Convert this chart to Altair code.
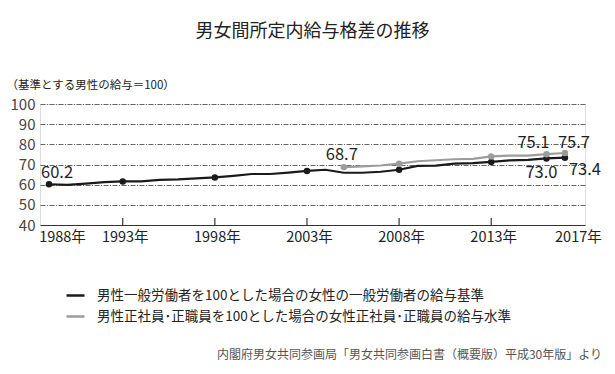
import altair as alt
import pandas as pd

FONT = "Noto Sans CJK JP"

# ---- data ----
series_general = "男性一般労働者を100とした場合の女性の一般労働者の給与基準"
series_regular = "男性正社員･正職員を100とした場合の女性正社員･正職員の給与水準"

years_general = list(range(1989, 2018))
values_general = [60.2, 59.9, 60.5, 61.3, 61.6, 61.6, 62.4, 62.6, 63.1, 63.6,
                  64.4, 65.3, 65.3, 66.0, 66.8, 67.4, 65.9, 65.9, 66.4, 67.4,
                  69.3, 69.4, 70.4, 70.7, 71.3, 72.0, 72.3, 73.0, 73.4]
marked_general = [1989, 1993, 1998, 2003, 2008, 2013, 2016, 2017]

years_regular = list(range(2005, 2018))
values_regular = [68.7, 69.1, 69.5, 70.4, 71.6, 72.1, 72.6, 72.8, 74.0, 74.4,
                  74.4, 75.1, 75.7]
marked_regular = [2005, 2008, 2013, 2016, 2017]

x_tick_values = [1989, 1993, 1998, 2003, 2008, 2013, 2017]
x_tick_labels = ["1988年", "1993年", "1998年", "2003年", "2008年", "2013年", "2017年"]
inner_tick_years = [1993, 1998, 2003, 2008, 2013]
y_tick_values = [40, 50, 60, 70, 80, 90, 100]

label_series = [series_general, series_regular, series_regular, series_regular, series_general, series_general]
label_years = [1989, 2005, 2016, 2017, 2016, 2017]
label_values = [60.2, 68.7, 75.1, 75.7, 73.0, 73.4]

title_text = "男女間所定内給与格差の推移"
unit_text = "（基準とする男性の給与＝100）"
source_text = "内閣府男女共同参画局「男女共同参画白書（概要版）平成30年版」より"

# ---- tables ----
rows = []
for y, v in zip(years_general, values_general):
    rows.append({"series": series_general, "year": y, "value": v, "marked": y in marked_general})
for y, v in zip(years_regular, values_regular):
    rows.append({"series": series_regular, "year": y, "value": v, "marked": y in marked_regular})
df = pd.DataFrame(rows)

df_labels = pd.DataFrame({"series": label_series, "year": label_years, "value": label_values})
df_labels["text"] = df_labels["value"].map(lambda v: f"{v:.1f}")
df_ticks = pd.DataFrame({"year": inner_tick_years, "value": [40] * len(inner_tick_years),
                         "hi": [43.5] * len(inner_tick_years)})

label_map = " : ".join(f"datum.value == {v} ? '{t}'" for v, t in zip(x_tick_values, x_tick_labels)) + " : ''"

x_scale = alt.Scale(domain=[1988.51, 2018.09], nice=False, zero=False)
y_scale = alt.Scale(domain=[40, 100], nice=False, zero=False)
color_scale = alt.Scale(domain=[series_general, series_regular], range=["#1a1a1a", "#9c9c9c"])

x_axis = alt.Axis(values=x_tick_values, labelExpr=label_map, title=None, grid=False,
                  ticks=False, domain=True, domainColor="#333333", domainWidth=1.2,
                  labelFontSize=14.5, labelColor="#222222", labelPadding=5, labelFont=FONT,
                  labelOverlap=False,
                  labelOffset={"condition": {"test": "datum.value == 1989 || datum.value == 2017", "value": 13}, "value": 2})

y_axis = alt.Axis(values=y_tick_values, tickCount=7, title=unit_text, titleAngle=0, titleX=-34, titleY=-19,
                  titleAlign="left", titleBaseline="middle", titleFontSize=11.5,
                  titleFontWeight="normal", titleColor="#222222", titleFont=FONT,
                  labelFontSize=15, labelColor="#444444", labelPadding=5, labelFont=FONT,
                  labelOverlap=False,
                  ticks=False, domain=False, grid=True, gridColor="#666666",
                  gridDash=[5, 1.5, 1, 1.5], gridWidth=1,
                  gridOpacity={"condition": {"test": "datum.value == 40", "value": 0}, "value": 1})

X = alt.X("year:Q", scale=x_scale, axis=x_axis)
Y = alt.Y("value:Q", scale=y_scale, axis=y_axis)

base = alt.Chart(df)

lines = base.mark_line(strokeWidth=2.2).encode(
    x=X, y=Y,
    color=alt.Color("series:N", scale=color_scale, sort=[series_general, series_regular],
                    legend=alt.Legend(title=None, orient="none", legendX=25, legendY=181,
                                      symbolType="stroke", symbolSize=324, symbolStrokeWidth=2.5,
                                      labelFontSize=13.5, labelColor="#222222", labelLimit=600,
                                      labelOffset=11, rowPadding=4, padding=0, labelFont=FONT)),
)

points = base.transform_filter(alt.datum.marked).mark_circle(size=42, opacity=1).encode(
    x=X, y=Y,
    color=alt.Color("series:N", scale=color_scale, legend=None),
)

ticks = alt.Chart(df_ticks).mark_rule(color="#333333", strokeWidth=1.2).encode(
    x=X, y=Y, y2="hi:Q"
)

offsets = {
    (series_general, 1989): (8, -11),
    (series_regular, 2005): (-2, -12),
    (series_regular, 2016): (-13, -11),
    (series_regular, 2017): (9, -10),
    (series_general, 2016): (-5, 15),
    (series_general, 2017): (20, 12),
}
label_layers = []
for _, r in df_labels.iterrows():
    dx, dy = offsets[(r["series"], r["year"])]
    sub = df_labels[(df_labels["series"] == r["series"]) & (df_labels["year"] == r["year"])]
    label_layers.append(
        alt.Chart(sub).mark_text(dx=dx, dy=dy, fontSize=16.5, font=FONT, color="#1f1f1f",
                                 align="center", baseline="middle").encode(
            x=X, y=Y, text="text:N")
    )

source = alt.Chart(pd.DataFrame({"t": [source_text]})).mark_text(
    align="right", baseline="middle", fontSize=12, font=FONT, color="#555555"
).encode(x=alt.value(562), y=alt.value(251), text="t:N")

chart = alt.layer(lines, ticks, points, *label_layers, source).properties(
    width=545, height=121,
    title=alt.TitleParams(title_text, anchor="middle", frame="group", fontSize=18,
                          font=FONT, fontWeight="normal", color="#222222", offset=38),
    autosize=alt.AutoSizeParams(type="none"),
    padding={"left": 32, "top": 96, "right": 22, "bottom": 140},
).configure_view(stroke=None).configure(background="white")

chart.save("out.html", embed_options={"renderer": "svg", "actions": False})
